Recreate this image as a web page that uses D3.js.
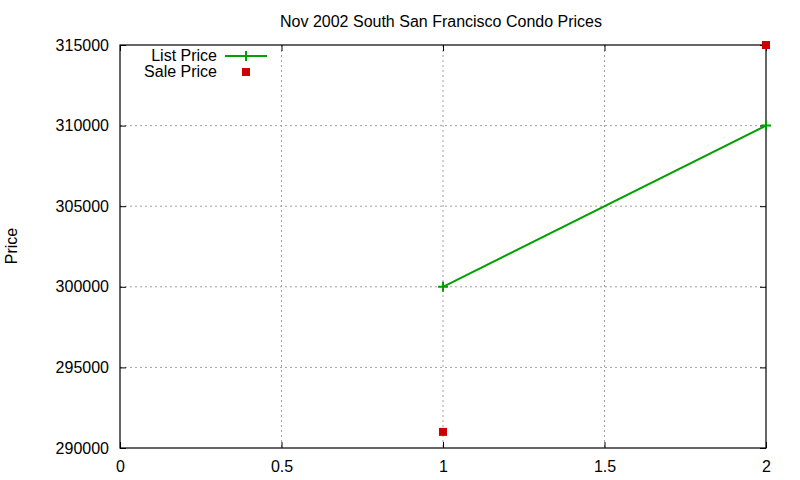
<!DOCTYPE html>
<html>
<head>
<meta charset="utf-8">
<script src="https://cdn.jsdelivr.net/npm/d3@7"></script>
<style>
  body { margin: 0; background: #fff; }
  svg { display: block; font-family: "Liberation Sans", Arial, sans-serif; }
  .grid line { stroke: #a0a0a0; stroke-dasharray: 2,3; }
</style>
</head>
<body>
<div id="chart"></div>
<script>
var listX = [1, 2];
var listPrice = [300000, 310000];
var saleX = [1, 2];
var salePrice = [291000, 315000];
var xTicks = [0, 0.5, 1, 1.5, 2];
var yTicks = [290000, 295000, 300000, 305000, 310000, 315000];

var width = 800, height = 480;
var margin = { top: 45, right: 34, bottom: 32, left: 120 };
var fontSize = 16;

var svg = d3.select("#chart").append("svg")
    .attr("width", width)
    .attr("height", height);

var x = d3.scaleLinear().domain([0, 2]).range([margin.left, width - margin.right]);
var y = d3.scaleLinear().domain([290000, 315000]).range([height - margin.bottom, margin.top]);

// grid
var grid = svg.append("g").attr("class", "grid");
grid.selectAll(".gx").data(xTicks.slice(1, -1)).enter().append("line")
    .attr("x1", d => x(d)).attr("x2", d => x(d))
    .attr("y1", margin.top).attr("y2", height - margin.bottom);
grid.selectAll(".gy").data(yTicks.slice(1, -1)).enter().append("line")
    .attr("x1", margin.left).attr("x2", width - margin.right)
    .attr("y1", d => y(d)).attr("y2", d => y(d));

function styleText(g) {
    g.selectAll("text").attr("font-size", fontSize).attr("fill", "#000")
        .attr("font-family", "Liberation Sans, Arial, sans-serif");
}

// axes, gnuplot style: inward ticks
svg.append("g")
    .attr("transform", `translate(0,${height - margin.bottom})`)
    .call(d3.axisBottom(x).tickValues(xTicks).tickSize(-6).tickPadding(13).tickFormat(d3.format("")))
    .call(g => g.select(".domain").remove())
    .call(styleText);
svg.append("g")
    .attr("transform", `translate(${margin.left},0)`)
    .call(d3.axisLeft(y).tickValues(yTicks).tickSize(-6).tickPadding(11).tickFormat(d3.format("d")))
    .call(g => g.select(".domain").remove())
    .call(styleText);
svg.append("g")
    .attr("transform", `translate(${width - margin.right},0)`)
    .call(d3.axisRight(y).tickValues(yTicks).tickSize(-6).tickFormat(""))
    .call(g => g.select(".domain").remove());
svg.append("g")
    .attr("transform", `translate(0,${margin.top})`)
    .call(d3.axisTop(x).tickValues(xTicks).tickSize(-6).tickFormat(""))
    .call(g => g.select(".domain").remove());

svg.append("rect")
    .attr("x", margin.left).attr("y", margin.top)
    .attr("width", width - margin.left - margin.right)
    .attr("height", height - margin.top - margin.bottom)
    .attr("fill", "none").attr("stroke", "#000").attr("stroke-width", 1.2);

// title, y label
svg.append("text")
    .attr("x", 441)
    .attr("y", 27)
    .attr("text-anchor", "middle")
    .attr("font-size", fontSize)
    .text("Nov 2002 South San Francisco Condo Prices");
svg.append("text")
    .attr("transform", `translate(17,246) rotate(-90)`)
    .attr("text-anchor", "middle")
    .attr("font-size", fontSize)
    .text("Price");

// list price line
var line = d3.line().x((d, i) => x(listX[i])).y(d => y(d));
svg.append("path")
    .datum(listPrice)
    .attr("d", line)
    .attr("fill", "none")
    .attr("stroke", "#00a000")
    .attr("stroke-width", 2);

function plus(g, cx, cy) {
    g.append("path")
        .attr("d", `M${cx - 5},${cy}H${cx + 5}M${cx},${cy - 5}V${cy + 5}`)
        .attr("stroke", "#00a000").attr("stroke-width", 2).attr("fill", "none");
}
listPrice.forEach((d, i) => plus(svg, x(listX[i]), y(d)));

// sale price points
svg.selectAll(".sale").data(salePrice).enter().append("rect")
    .attr("x", (d, i) => x(saleX[i]) - 4)
    .attr("y", d => y(d) - 4)
    .attr("width", 8).attr("height", 8)
    .attr("fill", "#cc0000");

// legend
var legend = svg.append("g");
legend.append("text").attr("x", 217).attr("y", 61).attr("text-anchor", "end").attr("font-size", fontSize).text("List Price");
legend.append("line").attr("x1", 225).attr("x2", 267).attr("y1", 56).attr("y2", 56)
    .attr("stroke", "#00a000").attr("stroke-width", 2);
plus(legend, 246, 56);
legend.append("text").attr("x", 217).attr("y", 77).attr("text-anchor", "end").attr("font-size", fontSize).text("Sale Price");
legend.append("rect").attr("x", 242).attr("y", 68).attr("width", 8).attr("height", 8).attr("fill", "#cc0000");
</script>
</body>
</html>
